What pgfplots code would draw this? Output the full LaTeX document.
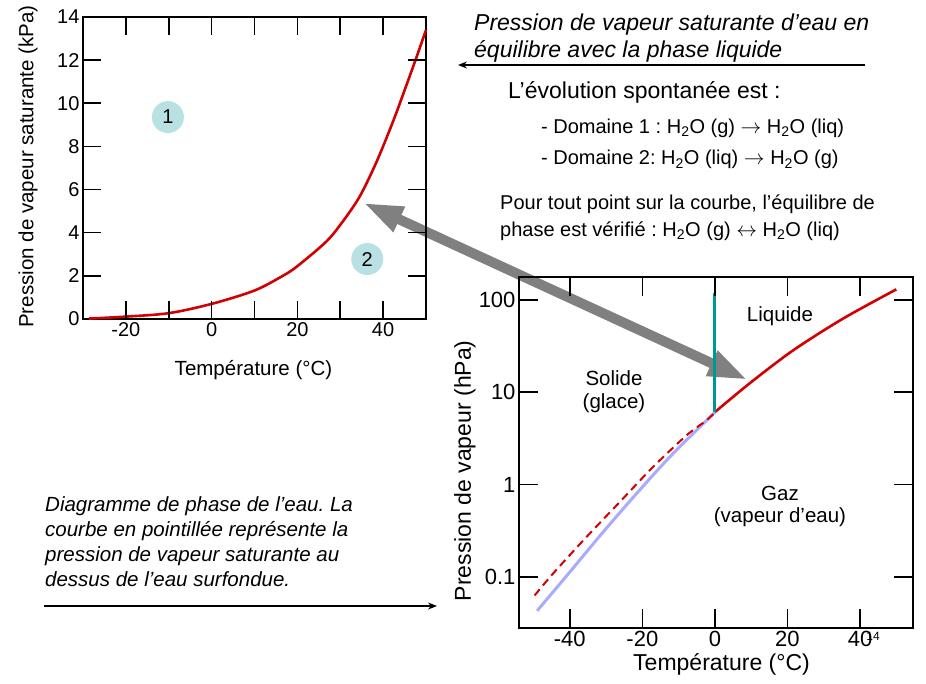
\documentclass[border=0pt]{standalone}
\usepackage{fontspec}
\setmainfont{Liberation Sans}
\usepackage{pgfplots}
\pgfplotsset{compat=1.18}
\usetikzlibrary{arrows.meta}
\definecolor{cred}{RGB}{210,0,0}
\definecolor{cblue}{RGB}{170,170,255}
\definecolor{cteal}{RGB}{0,150,150}
\definecolor{ccirc}{RGB}{185,224,226}
\definecolor{cgray}{RGB}{128,128,128}
\frenchspacing
\begin{document}
\begin{tikzpicture}
\path[use as bounding box] (0pt,0pt) rectangle (926pt,683pt);
% big gray double arrow (annotation)
\draw[line width=10pt, color=cgray, {Triangle[length=40pt,width=25pt]}-{Triangle[length=40pt,width=25pt]}] (363pt,480.3pt) -- (748pt,303pt);

% ---------- left axis ----------
\begin{axis}[name=L, at={(83pt,364pt)}, anchor=south west, scale only axis,
  width=343pt, height=302pt,
  xmin=-30, xmax=50, ymin=0, ymax=14,
  xtick={-20,-10,0,10,20,30,40}, xticklabels={-20,,0,,20,,40},
  ytick={0,2,4,6,8,10,12,14}, yticklabels={0,2,4,6,8,10,12,14},
  tick align=inside, major tick length=18pt,
  axis line style={line width=1.5pt},
  tick style={draw=black, line width=1.5pt},
  tick label style={font=\fontsize{20}{24}\selectfont},
  /pgf/number format/assume math mode=true,
  xlabel={Température (°C)}, ylabel={Pression de vapeur saturante (kPa)},
  xlabel style={font=\fontsize{20.5}{24}\selectfont, at={(axis description cs:0.497,-0.169)}, anchor=center},
  ylabel style={font=\fontsize{20.5}{24}\selectfont, at={(axis description cs:-0.16,0.505)}, anchor=center},
  clip=false]
\addplot[cred, line width=2.6pt, smooth] coordinates {
(-28.6,0.02) (-20,0.11) (-10,0.27) (0,0.70) (10,1.32) (16.6,2.0) (20,2.45) (26.8,3.6)
(30.7,4.55) (34.6,5.7) (38.5,7.3) (42.4,9.2) (45,10.6) (47.9,12.2) (50,13.4)};
\node[circle, fill=ccirc, minimum size=32pt, inner sep=0pt, font=\fontsize{20}{24}\selectfont] at (axis cs:-10.2,9.36) {1};
\node[circle, fill=ccirc, minimum size=32pt, inner sep=0pt, font=\fontsize{20}{24}\selectfont] at (axis cs:36.3,2.78) {2};
\end{axis}

% ---------- right axis ----------
\begin{axis}[name=R, at={(519pt,55pt)}, anchor=south west, scale only axis,
  width=394pt, height=351pt,
  ymode=log, xmin=-54, xmax=54.6, ymin=0.028, ymax=177,
  xtick={-40,-20,0,20,40},
  ytick={0.1,1,10,100}, yticklabels={0.1,1,10,100},
  minor ytick={},
  tick align=inside, major tick length=19pt,
  axis line style={line width=1.5pt},
  major tick style={draw=black, line width=1.5pt},
  minor tick style={draw=none},
  tick label style={font=\fontsize{22}{26}\selectfont},
  /pgf/number format/assume math mode=true,
  xlabel={Température (°C)}, ylabel={Pression de vapeur (hPa)},
  xlabel style={font=\fontsize{23}{27}\selectfont, at={(axis description cs:0.514,-0.105)}, anchor=center},
  ylabel style={font=\fontsize{23}{27}\selectfont, at={(axis description cs:-0.137,0.448)}, anchor=center},
  clip=false]
\addplot[cblue, line width=3pt, smooth] coordinates {
(-49,0.043) (-40,0.113) (-30.8,0.307) (-21.6,0.80) (-12.4,2.0) (-3.2,4.58) (0,6.05)};
\addplot[cred, line width=2pt, dash pattern=on 8pt off 5pt, smooth] coordinates {
(-49.7,0.063) (-44.6,0.109) (-35.4,0.271) (-26.2,0.65) (-17,1.56) (-7.8,3.42) (-2.3,4.97) (0,6.05)};
\addplot[cred, line width=2.6pt, smooth] coordinates {
(0,6.1) (9.7,12.6) (21.6,28.5) (35.4,63) (50,130)};
\addplot[cteal, line width=3pt] coordinates {(0,6.1) (0,120)};
\end{axis}

% ---------- tick marks, one explicit path per side ----------
\draw[line width=1.6pt, black]
  (125.9pt,364pt) -- (125.9pt,382pt)  (168.8pt,364pt) -- (168.8pt,382pt)
  (211.6pt,364pt) -- (211.6pt,382pt)  (254.5pt,364pt) -- (254.5pt,382pt)
  (297.4pt,364pt) -- (297.4pt,382pt)  (340.3pt,364pt) -- (340.3pt,382pt)
  (383.1pt,364pt) -- (383.1pt,382pt);
\draw[line width=1.6pt, black]
  (125.9pt,666pt) -- (125.9pt,648pt)  (168.8pt,666pt) -- (168.8pt,648pt)
  (211.6pt,666pt) -- (211.6pt,648pt)  (254.5pt,666pt) -- (254.5pt,648pt)
  (297.4pt,666pt) -- (297.4pt,648pt)  (340.3pt,666pt) -- (340.3pt,648pt)
  (383.1pt,666pt) -- (383.1pt,648pt);
\draw[line width=1.6pt, black]
  (83pt,407.1pt) -- (101pt,407.1pt)  (83pt,450.3pt) -- (101pt,450.3pt)
  (83pt,493.4pt) -- (101pt,493.4pt)  (83pt,536.6pt) -- (101pt,536.6pt)
  (83pt,579.7pt) -- (101pt,579.7pt)  (83pt,622.9pt) -- (101pt,622.9pt);
\draw[line width=1.6pt, black]
  (426pt,407.1pt) -- (408pt,407.1pt)  (426pt,450.3pt) -- (408pt,450.3pt)
  (426pt,493.4pt) -- (408pt,493.4pt)  (426pt,536.6pt) -- (408pt,536.6pt)
  (426pt,579.7pt) -- (408pt,579.7pt)  (426pt,622.9pt) -- (408pt,622.9pt);
\draw[line width=1.6pt, black]
  (569.8pt,55pt) -- (569.8pt,74pt)  (642.4pt,55pt) -- (642.4pt,74pt)
  (714.9pt,55pt) -- (714.9pt,74pt)  (787.5pt,55pt) -- (787.5pt,74pt)
  (860.1pt,55pt) -- (860.1pt,74pt);
\draw[line width=1.6pt, black]
  (569.8pt,406pt) -- (569.8pt,387pt)  (642.4pt,406pt) -- (642.4pt,387pt)
  (714.9pt,406pt) -- (714.9pt,387pt)  (787.5pt,406pt) -- (787.5pt,387pt)
  (860.1pt,406pt) -- (860.1pt,387pt);
\draw[line width=1.6pt, black]
  (519pt,106.1pt) -- (538pt,106.1pt)  (519pt,198.4pt) -- (538pt,198.4pt)
  (519pt,290.8pt) -- (538pt,290.8pt)  (519pt,383.1pt) -- (538pt,383.1pt);
\draw[line width=1.6pt, black]
  (913pt,106.1pt) -- (894pt,106.1pt)  (913pt,198.4pt) -- (894pt,198.4pt)
  (913pt,290.8pt) -- (894pt,290.8pt)  (913pt,383.1pt) -- (894pt,383.1pt);

% ---------- text annotations ----------
\begin{scope}[x=1pt, y=1pt, every node/.style={inner sep=0pt}]
\node[anchor=base west, font=\itshape\fontsize{23}{27}\selectfont] at (474,652.3) {Pression de vapeur saturante d’eau en};
\node[anchor=base west, font=\itshape\fontsize{23}{27}\selectfont] at (474,625.7) {équilibre avec la phase liquide};
\draw[line width=1.3pt, -{Stealth[length=9pt,width=7pt]}] (865,618) -- (458,618);
\node[anchor=base west, font=\fontsize{23}{27}\selectfont] at (508,584) {L’évolution spontanée est :};
\node[anchor=base west, font=\fontsize{20}{24}\selectfont] at (541,549.7) {- Domaine 1 : H\textsubscript{2}O (g) $\rightarrow$ H\textsubscript{2}O (liq)};
\node[anchor=base west, font=\fontsize{20}{24}\selectfont] at (541,518) {- Domaine 2: H\textsubscript{2}O (liq) $\rightarrow$ H\textsubscript{2}O (g)};
\node[anchor=base west, font=\fontsize{20}{24}\selectfont] at (500,473) {Pour tout point sur la courbe, l’équilibre de};
\node[anchor=base west, font=\fontsize{20}{24}\selectfont] at (500,446.3) {phase est vérifié : H\textsubscript{2}O (g) $\leftrightarrow$ H\textsubscript{2}O (liq)};

\node[anchor=base west, font=\itshape\fontsize{20.5}{25}\selectfont] at (45,171.3) {Diagramme de phase de l’eau. La};
\node[anchor=base west, font=\itshape\fontsize{20.5}{25}\selectfont] at (45,146.3) {courbe en pointillée représente la};
\node[anchor=base west, font=\itshape\fontsize{20.5}{25}\selectfont] at (45,121.3) {pression de vapeur saturante au};
\node[anchor=base west, font=\itshape\fontsize{20.5}{25}\selectfont] at (45,96.3) {dessus de l’eau surfondue.};
\draw[line width=1.3pt, -{Stealth[length=9pt,width=7pt]}] (44,77) -- (437,77);

\node[font=\fontsize{20.5}{24}\selectfont] at (780,367) {Liquide};
\node[font=\fontsize{20.5}{24}\selectfont] at (614,305) {Solide};
\node[font=\fontsize{20.5}{24}\selectfont] at (614,280) {(glace)};
\node[font=\fontsize{20.5}{24}\selectfont] at (780,190) {Gaz};
\node[font=\fontsize{20.5}{24}\selectfont] at (780,166) {(vapeur d’eau)};
\node[font=\fontsize{12}{14}\selectfont] at (873,47) {14};
\end{scope}
\end{tikzpicture}
\end{document}
